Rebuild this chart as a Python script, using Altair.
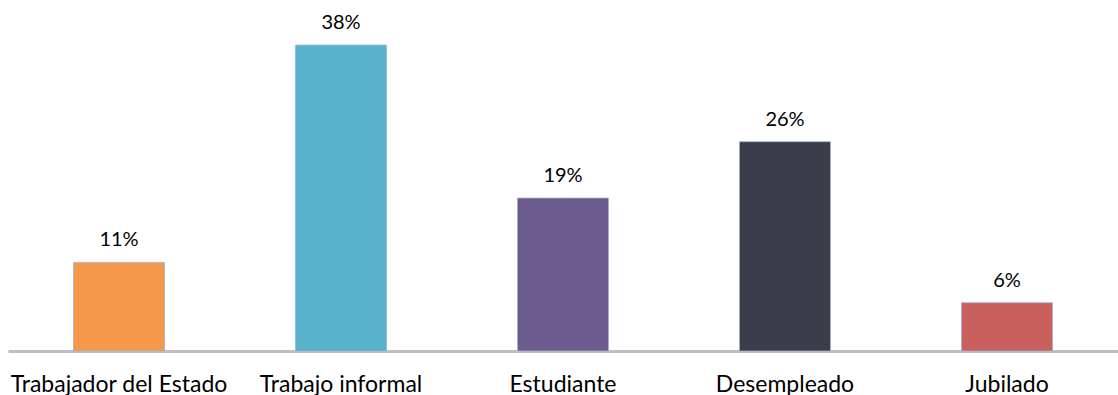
import altair as alt
import pandas as pd

categories = ["Trabajador del Estado", "Trabajo informal", "Estudiante", "Desempleado", "Jubilado"]
values = [11, 38, 19, 26, 6]
labels = ["11%", "38%", "19%", "26%", "6%"]
colors = ["#F5984A", "#58B2CB", "#6E5B8D", "#3A3D4A", "#C9605E"]

df = pd.DataFrame({"cat": categories, "val": values, "lab": labels})

x = alt.X("cat:N", sort=categories,
          scale=alt.Scale(paddingInner=0.59, paddingOuter=0.295),
          axis=alt.Axis(title=None, labelAngle=0, ticks=False, domainColor="#BFBFBF",
                        domainWidth=3, labelFont="Lato", labelFontSize=23, labelLimit=400,
                        labelColor="#000000", labelPadding=22))
y = alt.Y("val:Q", scale=alt.Scale(domain=[0, 39.75], nice=False), axis=None)

bars = alt.Chart(df).mark_bar(stroke="#9FB3D1", strokeWidth=1, strokeOpacity=0.8).encode(
    x=x, y=y,
    color=alt.Color("cat:N", sort=categories,
                    scale=alt.Scale(domain=categories, range=colors), legend=None),
)
text = alt.Chart(df).mark_text(dy=-22, font="Lato", fontSize=20, color="#000000").encode(
    x=alt.X("cat:N", sort=categories), y=y, text="lab:N"
)

chart = (bars + text).properties(
    width=1110, height=320,
    background="#FFFFFF",
    autosize=alt.AutoSizeParams(type="none"),
    padding={"left": 8, "top": 31, "right": 0, "bottom": 44},
).configure_view(stroke=None, strokeWidth=0)

chart.save("out.html", embed_options={"renderer": "svg", "actions": False})
